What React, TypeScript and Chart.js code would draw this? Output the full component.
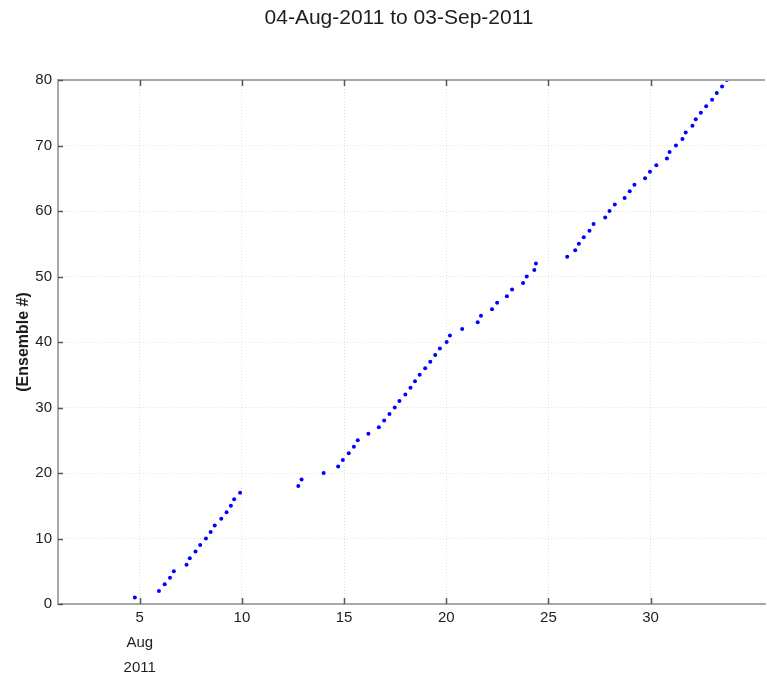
import { useEffect, useRef } from 'react';
import { Chart, registerables } from 'chart.js';

Chart.register(...registerables);

// Time of each ensemble, in days of August 2011 (Sep dates continue past 31)
const ensembleDay = [
  4.76, 5.94, 6.22, 6.48, 6.67, 7.29, 7.45, 7.73, 7.96, 8.24,
  8.47, 8.67, 8.99, 9.25, 9.46, 9.62, 9.91, 12.76, 12.92, 14.0,
  14.71, 14.94, 15.23, 15.48, 15.67, 16.19, 16.7, 16.96, 17.22, 17.48,
  17.71, 18.0, 18.25, 18.47, 18.7, 18.97, 19.22, 19.46, 19.69, 20.02,
  20.18, 20.78, 21.54, 21.7, 22.24, 22.49, 22.97, 23.22, 23.76, 23.94,
  24.31, 24.39, 25.92, 26.31, 26.49, 26.73, 27.01, 27.21, 27.78, 27.99,
  28.25, 28.73, 28.98, 29.21, 29.73, 29.97, 30.28, 30.8, 30.93, 31.24,
  31.56, 31.72, 32.05, 32.21, 32.46, 32.72, 33.01, 33.24, 33.5, 33.73,
];

// Ensemble number of each sample
const ensembleNumber = [
  1, 2, 3, 4, 5, 6, 7, 8, 9, 10,
  11, 12, 13, 14, 15, 16, 17, 18, 19, 20,
  21, 22, 23, 24, 25, 26, 27, 28, 29, 30,
  31, 32, 33, 34, 35, 36, 37, 38, 39, 40,
  41, 42, 43, 44, 45, 46, 47, 48, 49, 50,
  51, 52, 53, 54, 55, 56, 57, 58, 59, 60,
  61, 62, 63, 64, 65, 66, 67, 68, 69, 70,
  71, 72, 73, 74, 75, 76, 77, 78, 79, 80,
];

const xTicks = [5, 10, 15, 20, 25, 30];
const yTicks = [0, 10, 20, 30, 40, 50, 60, 70, 80];
const titleText = '04-Aug-2011 to 03-Sep-2011';
const yTitle = '(Ensemble #)';
const monthLabel = 'Aug';
const yearLabel = '2011';

const FONT = '"Liberation Sans", Arial, Helvetica, sans-serif';
const AXIS_GRAY = '#a8a8a8';
const GRID_GRAY = 'rgba(205,205,205,0.6)';
const TEXT = '#1e1e1e';

// Title, top frame edge and inward tick marks
const framePlugin = {
  id: 'frame',
  afterDraw(chart: any) {
    const { ctx, chartArea: a, scales } = chart;
    ctx.save();
    ctx.strokeStyle = AXIS_GRAY;
    ctx.lineWidth = 2;
    ctx.beginPath();
    ctx.moveTo(a.left, a.top);
    ctx.lineTo(a.right, a.top);
    ctx.stroke();

    ctx.strokeStyle = '#555555';
    ctx.lineWidth = 1.5;
    ctx.beginPath();
    xTicks.forEach((v) => {
      const px = Math.round(scales.x.getPixelForValue(v)) + 0.5;
      ctx.moveTo(px, a.bottom);
      ctx.lineTo(px, a.bottom - 6);
      ctx.moveTo(px, a.top);
      ctx.lineTo(px, a.top + 6);
    });
    yTicks.forEach((v) => {
      const py = Math.round(scales.y.getPixelForValue(v)) + 0.5;
      ctx.moveTo(a.left, py);
      ctx.lineTo(a.left + 5, py);
    });
    ctx.stroke();

    ctx.fillStyle = TEXT;
    ctx.font = `21px ${FONT}`;
    ctx.textAlign = 'center';
    ctx.textBaseline = 'middle';
    ctx.fillText(titleText, 399, 18);
    ctx.restore();
  },
};

export default function App() {
  const canvasRef = useRef<HTMLCanvasElement>(null);

  useEffect(() => {
    const canvas = canvasRef.current;
    if (!canvas) return;
    const points = ensembleDay.map((d, i) => ({ x: d, y: ensembleNumber[i] }));

    const chart = new Chart(canvas, {
      type: 'scatter',
      data: {
        datasets: [
          {
            data: points,
            backgroundColor: '#0000ff',
            borderWidth: 0,
            pointRadius: 2,
            pointHoverRadius: 2,
          },
        ],
      },
      options: {
        animation: false,
        responsive: false,
        maintainAspectRatio: false,
        layout: { padding: { top: 80, left: 0, right: 0, bottom: 0 } },
        plugins: {
          legend: { display: false },
          title: { display: false },
          tooltip: { enabled: false },
        },
        scales: {
          x: {
            type: 'linear',
            min: 1,
            max: 35.6,
            afterBuildTicks: (s: any) => {
              s.ticks = xTicks.map((v) => ({ value: v }));
            },
            afterFit: (s: any) => {
              s.height = 77;
            },
            ticks: {
              autoSkip: false,
              maxRotation: 0,
              padding: 1,
              color: TEXT,
              font: { family: FONT, size: 15, lineHeight: 25 / 15 },
              callback: (v: any) => (v === xTicks[0] ? [String(v), monthLabel, yearLabel] : String(v)),
            },
            grid: { color: GRID_GRAY, drawTicks: false, lineWidth: 1 },
            border: { color: AXIS_GRAY, width: 2, dash: [1, 2] },
          },
          y: {
            type: 'linear',
            min: 0,
            max: 80,
            afterBuildTicks: (s: any) => {
              s.ticks = yTicks.map((v) => ({ value: v }));
            },
            afterFit: (s: any) => {
              s.width = 58;
            },
            ticks: {
              padding: 6,
              color: TEXT,
              font: { family: FONT, size: 15 },
            },
            title: {
              display: true,
              text: yTitle,
              color: TEXT,
              font: { family: FONT, size: 16, weight: 'bold' },
              padding: { top: 14, bottom: 0 },
            },
            grid: { color: GRID_GRAY, drawTicks: false, lineWidth: 1 },
            border: { color: AXIS_GRAY, width: 2, dash: [1, 2] },
          },
        },
      },
      plugins: [framePlugin],
    });

    return () => chart.destroy();
  }, []);

  return (
    <div style={{ position: 'fixed', left: 0, top: 0, width: 767, height: 681, background: '#ffffff' }}>
      <canvas ref={canvasRef} width={767} height={681} style={{ width: 767, height: 681, display: 'block' }} />
    </div>
  );
}
